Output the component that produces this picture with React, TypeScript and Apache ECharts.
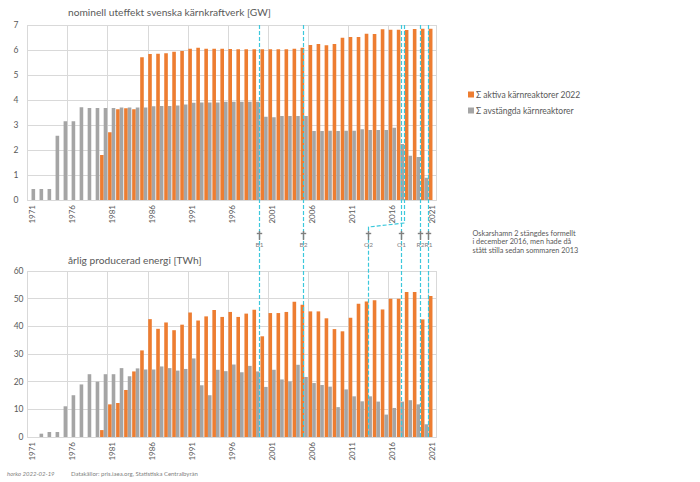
import React, { useEffect, useRef } from "react";
import * as echarts from "echarts";

const years = [
  "1971","1972","1973","1974","1975","1976","1977","1978","1979","1980",
  "1981","1982","1983","1984","1985","1986","1987","1988","1989","1990",
  "1991","1992","1993","1994","1995","1996","1997","1998","1999","2000",
  "2001","2002","2003","2004","2005","2006","2007","2008","2009","2010",
  "2011","2012","2013","2014","2015","2016","2017","2018","2019","2020","2021",
];

const seriesActive = "Σ aktiva kärnreaktorer 2022";
const seriesClosed = "Σ avstängda kärnreaktorer";

// GW
const capacityActive = [
  null, null, null, null, null, null, null, null, null,
  1.8, 2.71, 3.63, 3.67, 3.63, 5.71, 5.84, 5.85, 5.87, 5.93, 5.96,
  6.05, 6.09, 6.05, 6.05, 6.05, 6.04, 6.03, 6.03, 6.03, 6.03,
  6.03, 6.03, 6.03, 6.05, 6.09, 6.2, 6.24, 6.19, 6.24, 6.49,
  6.52, 6.52, 6.65, 6.64, 6.83, 6.81, 6.81, 6.8, 6.84, 6.85, 6.85,
];
const capacityClosed = [
  0.44, 0.44, 0.44, 2.57, 3.15, 3.15, 3.71, 3.68, 3.68, 3.68,
  3.68, 3.7, 3.7, 3.7, 3.7, 3.75, 3.76, 3.76, 3.78, 3.82,
  3.89, 3.9, 3.9, 3.9, 3.93, 3.93, 3.93, 3.93, 3.93, 3.33,
  3.31, 3.36, 3.36, 3.36, 3.36, 2.76, 2.76, 2.77, 2.76, 2.77,
  2.77, 2.83, 2.8, 2.8, 2.8, 2.89, 2.24, 1.77, 1.72, 0.89, null,
];

// TWh
const energyActive = [
  null, null, null, null, null, null, null, null, null,
  2.5, 11.8, 12.3, 17.0, 23.7, 31.3, 42.6, 39.1, 41.4, 38.6, 40.6,
  45.0, 42.1, 43.6, 45.9, 43.4, 45.2, 43.4, 44.6, 46.0, 36.4,
  44.8, 44.8, 45.2, 48.9, 47.8, 45.4, 45.4, 42.9, 39.0, 38.2,
  43.1, 48.2, 49.0, 49.4, 46.1, 50.0, 50.0, 52.4, 52.4, 42.5, 51.0,
];
const energyClosed = [
  null, 1.2, 1.8, 1.8, 11.1, 15.1, 19.0, 22.7, 20.0, 22.7,
  22.7, 24.9, 22.0, 24.8, 24.4, 24.4, 25.5, 24.9, 24.0, 24.6,
  28.4, 18.7, 15.1, 24.3, 23.8, 26.2, 23.4, 25.7, 23.7, 18.1,
  24.3, 20.8, 20.1, 26.1, 21.7, 19.5, 18.8, 18.2, 10.8, 17.2,
  14.7, 12.9, 14.7, 12.8, 8.1, 10.5, 12.8, 13.3, 11.8, 4.6, null,
];

// reactor shutdowns (decimal year)
const shutdownLabels = ["B1", "B2", "O2", "O1", "R2", "R1"];
const shutdownDates = [1999.87, 2005.41, 2013.49, 2017.53, 2019.94, 2020.97];
const o2FormalDate = 2017.95;

const annotationLines = [
  "Oskarshamn 2 stängdes formellt",
  "i december 2016, men hade då",
  "stått stilla sedan sommaren 2013",
];

const ORANGE = "#ED7D31";
const GRAY = "#A5A5A5";
const TEXT = "#595959";
const GRID = "#D9D9D9";
const CYAN = "#3CC8DC";
const MARK = "#7F7F7F";
const FONT = "Lato, 'Open Sans', sans-serif";

function baseOption(): any {
  const xAxisBase = (gridIndex: number) => ({
    type: "category",
    gridIndex,
    data: years,
    boundaryGap: true,
    axisLine: { show: true, lineStyle: { color: GRID } },
    axisTick: { show: false },
    axisLabel: { interval: 4, rotate: 90, margin: 5, color: TEXT, fontSize: 8, fontFamily: FONT },
    splitLine: { show: true, interval: 4, lineStyle: { color: GRID } },
  });
  const barBase = { type: "bar", barGap: "0%", barCategoryGap: "10%", silent: true };
  return {
    animation: false,
    textStyle: { fontFamily: FONT },
    title: [
      {
        text: "nominell uteffekt svenska kärnkraftverk [GW]",
        left: 68, top: 7, padding: 0,
        textStyle: { color: TEXT, fontSize: 10.2, fontWeight: "normal", fontFamily: FONT },
      },
      {
        text: "årlig producerad energi [TWh]",
        left: 68, top: 255, padding: 0,
        textStyle: { color: TEXT, fontSize: 10.2, fontWeight: "normal", fontFamily: FONT },
      },
    ],
    legend: {
      left: 463, top: 85, orient: "vertical", icon: "rect",
      itemWidth: 6, itemHeight: 6, itemGap: 7,
      data: [seriesActive, seriesClosed],
      textStyle: { color: TEXT, fontSize: 8.5, fontFamily: FONT, padding: [0, 0, 0, -3] },
      selectedMode: false,
    },
    grid: [
      { left: 27.5, right: 263.5, top: 25, height: 175 },
      { left: 27.5, right: 263.5, top: 271, height: 166 },
    ],
    xAxis: [xAxisBase(0), xAxisBase(1)],
    yAxis: [
      {
        type: "value", gridIndex: 0, min: 0, max: 7, interval: 1,
        axisLine: { show: false }, axisTick: { show: false },
        axisLabel: { color: TEXT, fontSize: 8.5, margin: 9, fontFamily: FONT },
        splitLine: { lineStyle: { color: GRID } },
      },
      {
        type: "value", gridIndex: 1, min: 0, max: 60, interval: 10,
        axisLine: { show: false }, axisTick: { show: false },
        axisLabel: { color: TEXT, fontSize: 8.5, margin: 4, fontFamily: FONT },
        splitLine: { lineStyle: { color: GRID } },
      },
    ],
    series: [
      { ...barBase, name: seriesActive, xAxisIndex: 0, yAxisIndex: 0, data: capacityActive, itemStyle: { color: ORANGE } },
      { ...barBase, name: seriesClosed, xAxisIndex: 0, yAxisIndex: 0, data: capacityClosed, itemStyle: { color: GRAY } },
      { ...barBase, name: seriesActive, xAxisIndex: 1, yAxisIndex: 1, data: energyActive, itemStyle: { color: ORANGE } },
      { ...barBase, name: seriesClosed, xAxisIndex: 1, yAxisIndex: 1, data: energyClosed, itemStyle: { color: GRAY } },
    ],
  };
}

export default function App() {
  const ref = useRef<HTMLDivElement>(null);

  useEffect(() => {
    document.body.style.margin = "0";
    if (!ref.current) return;

    // measure axis scales with a first instance
    let chart = echarts.init(ref.current, null, { renderer: "svg" });
    chart.setOption(baseOption());
    const c0 = chart.convertToPixel({ xAxisIndex: 0 }, 0) as number;
    const c1 = chart.convertToPixel({ xAxisIndex: 0 }, 1) as number;
    const yTop = chart.convertToPixel({ yAxisIndex: 0 }, 7) as number;
    const yBottom = chart.convertToPixel({ yAxisIndex: 1 }, 0) as number;
    chart.dispose();

    const step = c1 - c0;
    const xOf = (d: number) => Math.round(c0 + (d - 1971.5) * step) + 0.5;
    const crossTop = 231;
    const crossBottom = 240;
    const crossBar = 233.5;
    const bendTop = 223;
    const bendBottom = 227;

    const dashed = { stroke: CYAN, fill: "none", lineWidth: 1.2, lineDash: [4, 2] };
    const solidMark = { stroke: MARK, fill: "none", lineWidth: 1.4 };
    const lines: any[] = [];
    const marks: any[] = [];
    shutdownLabels.forEach((lab, i) => {
      const x = xOf(shutdownDates[i]);
      const pts =
        lab === "O2"
          ? [[xOf(o2FormalDate), yTop], [xOf(o2FormalDate), bendTop], [x, bendBottom], [x, yBottom]]
          : [[x, yTop], [x, yBottom]];
      lines.push({ type: "polyline", id: "dl-" + lab, z: 50, silent: true, shape: { points: pts }, style: dashed });
      marks.push({ type: "line", id: "cv-" + lab, z: 60, silent: true, shape: { x1: x, y1: crossTop, x2: x, y2: crossBottom }, style: solidMark });
      marks.push({ type: "line", id: "ch-" + lab, z: 60, silent: true, shape: { x1: x - 2.7, y1: crossBar, x2: x + 2.7, y2: crossBar }, style: solidMark });
      marks.push({
        type: "text", id: "lb-" + lab, z: 60, silent: true, x, y: 244.5,
        style: { text: lab, fill: MARK, font: `6.5px ${FONT}`, align: "center", verticalAlign: "middle" },
      });
    });

    const texts: any[] = annotationLines.map((t, i) => ({
      type: "text", silent: true, x: 472.5, y: 233 + i * 8.7,
      style: { text: t, fill: TEXT, font: `7.3px ${FONT}`, align: "left", verticalAlign: "middle" },
    }));
    texts.push({
      type: "text", silent: true, x: 7, y: 473,
      style: { text: "horko 2022-02-19", fill: MARK, font: `italic 6px ${FONT}`, verticalAlign: "middle" },
    });
    texts.push({
      type: "text", silent: true, x: 71, y: 473,
      style: { text: "Datakällor: pris.iaea.org, Statistiska Centralbyrån", fill: MARK, font: `6px ${FONT}`, verticalAlign: "middle" },
    });

    chart = echarts.init(ref.current, null, { renderer: "svg" });
    chart.setOption({ ...baseOption(), graphic: [...lines, ...marks, ...texts] });

    return () => chart.dispose();
  }, []);

  return <div ref={ref} style={{ width: 700, height: 482 }} />;
}
